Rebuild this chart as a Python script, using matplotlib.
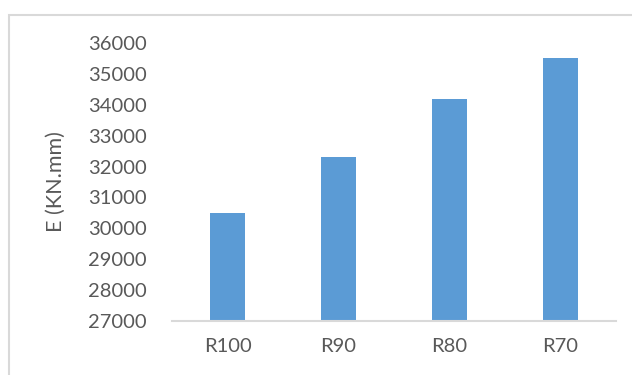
import matplotlib
matplotlib.use("Agg")
import matplotlib.pyplot as plt
from matplotlib.patches import Rectangle

# E values for each mix
categories = ["R100", "R90", "R80", "R70"]
e_values = [30500, 32300, 34200, 35500]
y_ticks = [27000, 28000, 29000, 30000, 31000, 32000, 33000, 34000, 35000, 36000]

bar_color = "#5B9BD5"
text_color = "#595959"
line_color = "#D9D9D9"

plt.rcParams["font.family"] = ["Lato", "DejaVu Sans"]

fig = plt.figure(figsize=(6.32, 3.75), dpi=100)
W, H = 632, 375
# plot area in pixels: left 172, right 616, top 43, bottom 321
ax = fig.add_axes([172 / W, 1 - 321 / H, (616 - 172) / W, (321 - 43) / H])

x = range(len(categories))
ax.bar(x, e_values, width=0.315, color=bar_color, zorder=2)

ax.set_xlim(-0.5, len(categories) - 0.5)
ax.set_ylim(y_ticks[0], y_ticks[-1])
ax.set_yticks(y_ticks)
ax.set_yticklabels([str(v) for v in y_ticks])
ax.set_xticks(list(x))
ax.set_xticklabels(categories)

for side in ["top", "right", "left"]:
    ax.spines[side].set_visible(False)
ax.spines["bottom"].set_color(line_color)
ax.spines["bottom"].set_linewidth(1.5)

ax.tick_params(axis="both", length=0, labelsize=14.5, colors=text_color)
ax.tick_params(axis="y", pad=18)
ax.tick_params(axis="x", pad=12)

ax.set_ylabel("E (KN.mm)", fontsize=15.5, color=text_color, labelpad=16)

# outer chart frame, runs off the right and bottom edges
frame = Rectangle((8.5 / W, -0.1), 1.2, 1 - 15 / H + 0.1, transform=fig.transFigure,
                  fill=False, edgecolor=line_color, linewidth=1.5, clip_on=False)
fig.add_artist(frame)

fig.savefig("out.png", dpi=100)
